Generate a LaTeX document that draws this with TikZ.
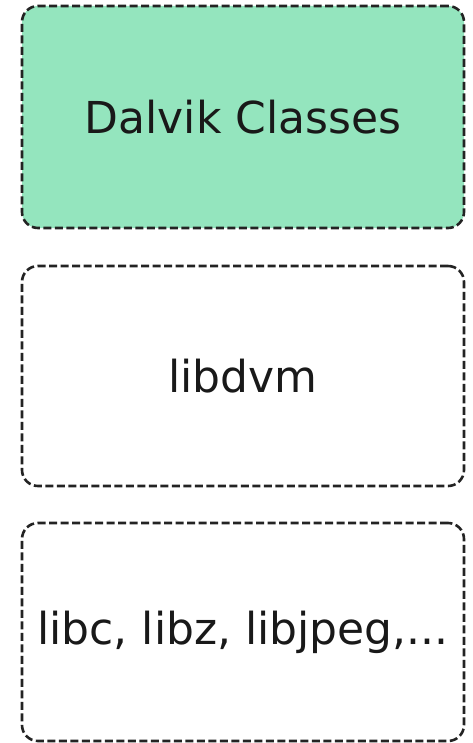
\documentclass[tikz,border=0pt]{standalone}
\usepackage{fontspec}
\setmainfont{DejaVu Sans}
\definecolor{boxgreen}{RGB}{148,229,190}
\definecolor{edgegray}{RGB}{35,35,35}
\definecolor{txt}{RGB}{25,25,25}
\begin{document}
\begin{tikzpicture}[x=1pt,y=-1pt,
  layerbox/.style={draw=edgegray, line width=2.6pt, dash pattern=on 8pt off 3.5pt,
    rounded corners=16pt, rectangle, inner sep=0pt, minimum width=442pt,
    text=txt, font=\fontsize{44}{52}\selectfont}]
\useasboundingbox (0,0) rectangle (472,743);
\node[layerbox, fill=boxgreen, minimum height=222pt] (dalvik) at (243,117) {Dalvik Classes};
\node[layerbox, minimum height=220pt] (libdvm) at (243,376) {libdvm};
\node[layerbox, minimum height=218pt] (libc) at (243,632) {libc, libz, libjpeg,...};
\end{tikzpicture}
\end{document}
